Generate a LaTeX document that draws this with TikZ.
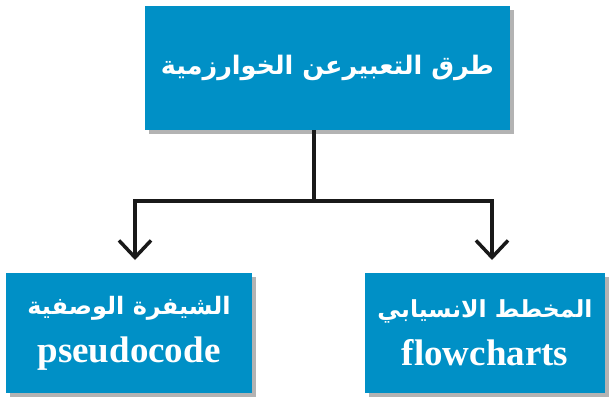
\documentclass[tikz,border=0pt]{standalone}
\usepackage{fontspec}
\setmainfont{Liberation Serif}
\newfontfamily\arabicfont[Script=Arabic]{DejaVu Sans}
\TeXXeTstate=1
\usetikzlibrary{arrows.meta,shadows}
\definecolor{bleuboite}{RGB}{0,144,198}
\tikzset{
  boite/.style={fill=bleuboite, text=white, align=center, inner sep=0pt,
    drop shadow={shadow xshift=4pt, shadow yshift=-4pt, fill=black!50, opacity=.6}},
  lien/.style={line width=3.5pt, black!90},
  fleche/.style={lien, -{Straight Barb[length=17pt,width=32pt,line width=3.5pt]}}
}
\begin{document}
\begin{tikzpicture}[x=1pt,y=-1pt]
\useasboundingbox (0,0) rectangle (611,399);

% Boîte du haut
\node[boite, minimum width=365pt, minimum height=124pt] (racine) at (327.5,68)
  {\arabicfont\bfseries\fontsize{25.5}{36}\selectfont\beginR طرق التعبيرعن الخوارزمية\endR};

% Boîtes du bas
\node[boite, minimum width=246pt, minimum height=120pt, font=\bfseries\fontsize{37}{48}\selectfont] (pseudo) at (129,333)
  {{\arabicfont\fontsize{24}{48}\selectfont\beginR الشيفرة الوصفية\endR}\\ pseudocode};
\node[boite, minimum width=240pt, minimum height=120pt, font=\bfseries\fontsize{37}{48}\selectfont] (organi) at (485,333)
  {{\arabicfont\fontsize{23.5}{48}\selectfont\beginR المخطط الانسيابي\endR}\\ flowcharts};

% Liaisons
\coordinate (embr) at (314,201);
\coordinate (pointeG) at (135,260);
\coordinate (pointeD) at (492,260);
\draw[lien] (racine.south -| embr) -- (embr);
\draw[fleche] (embr) -| (pointeG);
\draw[fleche] (embr) -| (pointeD);
\end{tikzpicture}
\end{document}
